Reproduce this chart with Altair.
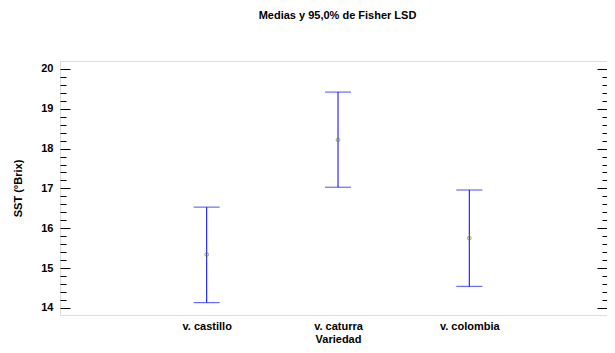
import altair as alt
import pandas as pd

varieties = ["v. castillo", "v. caturra", "v. colombia"]
means = [15.34, 18.22, 15.75]
lowers = [14.13, 17.03, 14.54]
uppers = [16.53, 19.42, 16.96]
major_ticks = [14, 15, 16, 17, 18, 19, 20]
minor_ticks = [14.2, 14.4, 14.6, 14.8, 15.2, 15.4, 15.6, 15.8, 16.2, 16.4, 16.6, 16.8,
               17.2, 17.4, 17.6, 17.8, 18.2, 18.4, 18.6, 18.8, 19.2, 19.4, 19.6, 19.8]

df = pd.DataFrame({"Variedad": varieties, "media": means, "inf": lowers, "sup": uppers})

FONT = "Liberation Sans"
TXT = dict(labelFont=FONT, titleFont=FONT, labelFontSize=11, titleFontSize=11,
           labelFontWeight="bold", titleFontWeight="bold", labelColor="black", titleColor="black")
yscale = alt.Scale(domain=[13.82, 20.2], nice=False, zero=False)

xenc = alt.X(
    "Variedad:N", sort=varieties,
    scale=alt.Scale(type="point", range=[146.7, 409.3], padding=0),
    axis=alt.Axis(title="Variedad", labelAngle=0, ticks=False, tickSize=0, domain=False,
                  labelPadding=5, titlePadding=2, **TXT),
)

def yaxis(orient, values, offset, size, labels=False, title=""):
    kw = dict(orient=orient, values=values, offset=offset, tickSize=size, domain=False,
              grid=False, labels=labels, title=title, tickColor="black", tickWidth=1, **TXT)
    if labels:
        kw.update(labelPadding=7, titlePadding=17)
    return alt.Axis(**kw)

base = alt.Chart(df)

rule = base.mark_rule(color="#0000ff", strokeWidth=1).encode(
    x=xenc,
    y=alt.Y("inf:Q", scale=yscale, axis=yaxis("left", major_ticks, -10, 10, labels=True, title="SST (°Brix)")),
    y2="sup:Q",
)
cap_lo = base.mark_tick(orient="horizontal", size=26, thickness=1, color="#0000ff").encode(
    x=xenc,
    y=alt.Y("inf:Q", scale=yscale, axis=yaxis("left", minor_ticks, -6, 6)),
)
cap_hi = base.mark_tick(orient="horizontal", size=26, thickness=1, color="#0000ff").encode(
    x=xenc,
    y=alt.Y("sup:Q", scale=yscale, axis=yaxis("right", major_ticks, -10, 10)),
)
pts = base.mark_point(shape="circle", size=14, color="#808000", strokeWidth=1, filled=False).encode(
    x=xenc,
    y=alt.Y("media:Q", scale=yscale, axis=yaxis("right", minor_ticks, -5, 5)),
)

chart = alt.layer(rule, cap_lo, cap_hi, pts).resolve_axis(y="independent").properties(
    width=547, height=254,
    autosize=alt.AutoSizeParams(type="none"),
    padding={"left": 52, "top": 53, "right": 0, "bottom": 30},
    title=alt.TitleParams("Medias y 95,0% de Fisher LSD", fontSize=11, fontWeight="bold",
                          font=FONT, anchor="middle", offset=40, dx=4, color="black"),
).configure_view(stroke="black", strokeWidth=1).configure(background="white")

chart.save("out.html", embed_options={"renderer": "svg", "actions": False})
